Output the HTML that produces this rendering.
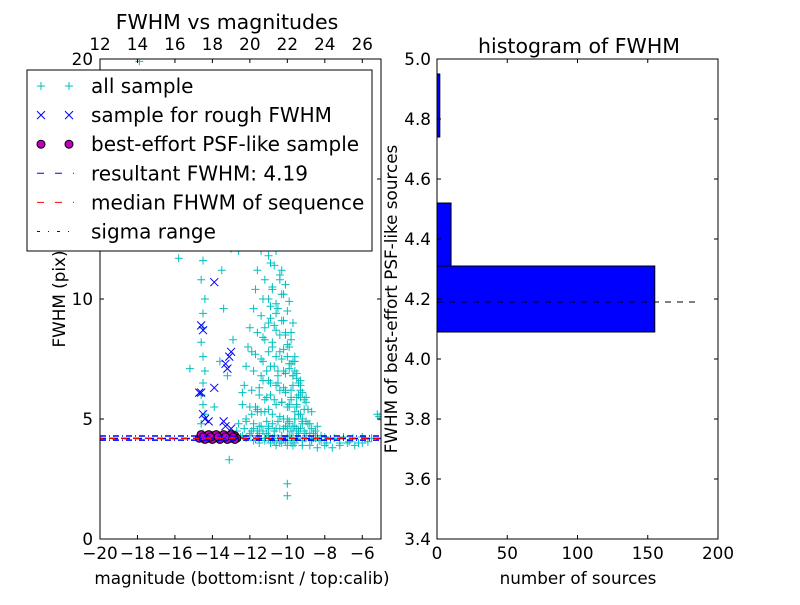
<!DOCTYPE html>
<html><head><meta charset="utf-8"><style>
body{margin:0;background:#fff;}
svg text{font-family:"DejaVu Sans","Liberation Sans",sans-serif;}
</style></head><body>
<svg id="c" width="800" height="600" xmlns="http://www.w3.org/2000/svg">
<rect width="800" height="600" fill="#fff"/>
</svg>
<script>
// Left panel data (bottom magnitude, FWHM)
const allMag=[-14.5,-14.6,-14.4,-14.5,-14.6,-14.5,-14.4,-14.5,-14.6,-14.5,-14.5,-14.4,-14.6,-14.5,-14.5,-14.3,-14.5,-14.6,-14.5,-14.4,-15.8,-15.2,-13.9,-13.6,-13.0,-13.4,-13.8,-12.9,-13.2,-13.5,-17.9,-12.9,
-12.0,-11.8,-11.6,-11.5,-11.3,-11.1,-11.0,-10.8,-10.7,-10.5,-10.4,-10.2,-10.1,-10.0,-9.9,-9.7,-9.6,-9.4,-9.3,-9.1,-9.0,-8.8,-8.6,-8.4,
-11.9,-11.7,-11.4,-11.2,-11.0,-10.9,-10.6,-10.4,-10.3,-10.1,-9.9,-9.8,-9.6,-9.5,-9.3,-9.2,-9.0,-8.9,-8.7,-8.5,
-11.5,-11.3,-11.1,-10.9,-10.7,-10.5,-10.3,-10.1,-9.9,-9.7,-9.5,-9.3,-9.1,-8.9,
-11.4,-11.0,-10.8,-10.6,-10.4,-10.2,-10.0,-9.8,-9.6,-9.4,-9.2,-9.0,
-11.2,-10.9,-10.7,-10.5,-10.3,-10.1,-9.9,-9.7,-9.5,-9.3,
-11.0,-10.8,-10.6,-10.4,-10.2,-10.0,-9.8,-9.6,
-10.9,-10.6,-10.3,-10.1,-9.9,-9.7,-10.5,-10.2,
-11.8,-11.5,-11.2,-10.9,-10.6,-10.3,-10.0,-9.7,-11.0,-10.7,-10.4,-10.1,-9.8,-12.2,-11.6,-12.4,-11.9,-11.3,
-12.5,-12.0,-11.5,-11.0,-10.5,-10.0,-9.5,-9.0,-8.5,-8.0,-7.5,-7.0,-6.5,-6.0,-5.5,-5.2,-12.2,-11.7,-11.2,-10.7,-10.2,-9.7,-9.2,-8.7,-8.2,-7.7,-7.2,-6.7,-6.2,-5.7,
-13.1,-10.0,-10.0,-5.1,-12.1,-11.3,-10.8,-12.6,-13.3,-17.6,-11.6,
-11.2,-11.0,-10.9,-10.7,-11.1,-10.8,-10.6,-11.3,-10.9,-10.5,-11.4,-11.0,-10.7,-10.4,-11.6,-11.2,-10.8,-10.3,-11.7,-11.3,-10.9,-10.6,-10.2,-11.8,-11.4,-11.0,-10.6,-10.1,-9.8,
-12.0,-11.6,-11.2,-10.8,-10.4,-10.0,-9.6,-12.1,-11.7,-11.3,-10.9,-10.5,-10.1,-9.7,-9.3,-12.2,-11.8,-11.4,-11.0,-10.6,-10.2,-9.8,-9.4,-9.0,
-12.3,-11.9,-11.5,-11.1,-10.7,-10.3,-9.9,-9.5,-9.1,-8.7,-12.4,-12.0,-11.6,-11.2,-10.8,-10.4,-10.0,-9.6,-9.2,-8.8,-8.4,
-12.6,-12.2,-11.8,-11.4,-11.0,-10.6,-10.2,-9.8,-9.4,-9.0,-8.6,-8.2,-12.7,-12.3,-11.9,-11.5,-11.1,-10.7,-10.3,-9.9,-9.5,-9.1,-8.7,-8.3,-7.9,
-12.4,-12.0,-11.6,-11.2,-10.8,-10.4,-10.0,-9.6,-9.2,-8.8,-8.4,-8.0,-7.6,-7.2,-6.8,-6.4,-6.0,
-10.5,-10.2,-9.9,-10.1,-9.7,-9.5,-9.3,-10.0,-9.8,-9.4,-9.6,-9.2,-9.9,-9.7,-9.5];
const allFwhm=[4.4,4.8,5.2,5.6,6.0,6.5,7.0,7.6,8.2,8.8,9.4,10.0,10.8,11.6,12.4,13.2,14.0,15.0,16.0,13.5,11.7,7.1,5.5,7.4,12.1,9.6,13.1,8.3,6.8,11.2,19.9,14.3,
4.4,4.6,4.5,4.7,4.5,4.9,4.6,4.8,4.5,4.9,4.6,5.0,4.7,4.6,4.8,4.5,4.7,4.4,4.6,4.5,4.3,4.4,4.2,4.3,
5.2,5.5,5.3,5.8,5.4,6.0,5.6,6.2,5.7,6.1,5.5,5.9,5.3,5.6,5.2,5.0,4.9,4.8,4.6,4.5,
6.3,6.6,7.0,6.5,7.2,6.8,7.5,6.9,7.1,6.4,6.7,5.9,5.8,5.4,
7.5,7.8,8.2,7.6,8.5,7.9,8.1,7.3,7.0,6.5,6.1,5.7,
8.8,9.2,8.9,9.6,9.1,8.6,8.0,7.4,6.9,6.2,
10.0,10.4,9.8,10.8,10.2,9.5,8.6,7.6,
11.5,12.0,11.2,10.6,9.9,9.0,13.1,12.5,
4.1,4.0,4.1,4.0,3.9,4.0,3.9,3.9,4.2,4.1,4.0,4.1,4.0,5.0,5.3,6.1,7.8,8.4,
4.25,4.3,4.2,4.3,4.2,4.25,4.3,4.2,4.2,4.25,4.2,4.25,4.2,4.25,4.2,5.2,4.2,4.15,4.2,4.1,4.15,4.1,4.1,4.15,4.1,4.15,4.0,4.05,4.0,4.05,
3.3,2.3,1.8,5.1,14.5,15.5,14.8,12.0,12.8,12.9,17.0,
16.0,15.6,15.2,14.6,14.0,13.6,13.2,13.0,12.6,12.2,12.0,11.8,11.4,11.0,11.2,10.8,10.5,10.2,10.4,10.0,9.7,9.4,9.1,9.6,9.3,9.0,8.7,8.5,8.3,
8.8,8.6,8.3,8.0,7.8,7.6,7.4,8.0,7.7,7.4,7.2,7.0,6.9,6.8,6.6,7.2,7.0,6.8,6.6,6.4,6.3,6.2,6.0,5.9,
6.4,6.2,6.0,5.9,5.8,5.7,5.6,5.5,5.4,5.3,5.6,5.5,5.4,5.3,5.2,5.1,5.0,5.0,4.9,4.8,4.7,
4.8,4.9,4.8,4.7,4.7,4.6,4.6,4.5,4.5,4.4,4.4,4.3,4.5,4.6,4.5,4.4,4.4,4.3,4.3,4.3,4.2,4.2,4.1,4.1,4.0,
4.3,4.3,4.3,4.2,4.2,4.1,4.1,4.0,3.9,3.9,3.8,3.9,3.8,3.9,4.0,3.9,4.0,
6.5,7.0,7.3,6.2,6.8,5.9,6.4,5.5,5.8,5.2,5.0,4.8,4.9,4.7,4.6];
const roughMag=[-14.6,-14.5,-14.6,-14.5,-13.9,-13.3,-13.2,-13.1,-13.0,-14.7,-13.9,-14.4,-14.2,-13.4,-13.3,-13.0];
const roughFwhm=[8.9,8.7,6.1,5.2,10.7,7.3,7.1,7.6,7.8,6.1,6.3,5.0,4.9,4.9,4.7,4.6];
const psfMag=[-14.7,-14.6,-14.5,-14.4,-14.3,-14.2,-14.1,-14.0,-13.9,-13.8,-13.7,-13.6,-13.5,-13.4,-13.3,-13.2,-13.1,-13.0,-12.9,-12.8,-12.7,-14.6,-14.4,-14.2,-14.0,-13.8,-13.6,-13.4,-13.2,-13.0,-12.8,-14.5,-14.1,-13.7,-13.3,-12.9];
const psfFwhm=[4.2,4.3,4.2,4.25,4.3,4.2,4.25,4.3,4.2,4.25,4.3,4.2,4.25,4.3,4.2,4.25,4.3,4.2,4.25,4.3,4.2,4.35,4.15,4.35,4.15,4.35,4.15,4.35,4.15,4.35,4.15,4.25,4.25,4.25,4.25,4.25];
const resultFwhm=4.19, medianFwhm=4.2, sigmaLo=4.12, sigmaHi=4.29;
const magTicks=[-20,-18,-16,-14,-12,-10,-8,-6];
const calibTicks=[12,14,16,18,20,22,24,26];
const fwhmTicks=[0,5,10,15,20];
// Right panel data (histogram)
const binLo=[4.09,4.31,4.74];
const binHi=[4.31,4.52,4.95];
const binCount=[155,10,2];
const histXTicks=[0,50,100,150,200];
const histYTicks=[3.4,3.6,3.8,4.0,4.2,4.4,4.6,4.8,5.0];

const NS="http://www.w3.org/2000/svg";
const svg=document.getElementById('c');
function mk(tag,attrs,parent){const e=document.createElementNS(NS,tag);for(const k in attrs)e.setAttribute(k,attrs[k]);(parent||svg).appendChild(e);return e;}
function txt(s,x,y,size,anchor,parent){const t=mk('text',{x:x,y:y,'font-size':size,'text-anchor':anchor||'middle',fill:'#000'},parent);t.textContent=s;return t;}
const TK=16.8, TT=20.5, LG=20;

const L={x0:100,x1:381,y0:59,y1:539};
const lx=m=>L.x0+(m+20)/15*(L.x1-L.x0);
const ly=f=>L.y1-f/20*(L.y1-L.y0);
const lxc=c=>L.x0+(c-12)/15*(L.x1-L.x0);
const R={x0:437,x1:718,y0:59,y1:539};
const rx=n=>R.x0+n/200*(R.x1-R.x0);
const ry=f=>R.y1-(f-3.4)/1.6*(R.y1-R.y0);

const gL=mk('g',{});


const clip=mk('clipPath',{id:'cl'});mk('rect',{x:L.x0,y:L.y0,width:L.x1-L.x0,height:L.y1-L.y0},clip);
const plot=mk('g',{'clip-path':'url(#cl)'},gL);
allMag.forEach((m,i)=>{const x=lx(m),y=ly(allFwhm[i]);
 const p=mk('path',{d:`M${x-4},${y}H${x+4}M${x},${y-4}V${y+4}`,stroke:'#00bfbf','stroke-width':1},plot);
 });
roughMag.forEach((m,i)=>{const x=lx(m),y=ly(roughFwhm[i]);
 const p=mk('path',{d:`M${x-4},${y-4}L${x+4},${y+4}M${x-4},${y+4}L${x+4},${y-4}`,stroke:'#00f','stroke-width':1},plot);
 });
psfMag.forEach((m,i)=>{const c=mk('circle',{cx:lx(m),cy:ly(psfFwhm[i]),r:4,fill:'#bf00bf',stroke:'#000','stroke-width':1},plot);
 });
const l1=mk('line',{x1:L.x0,x2:L.x1,y1:ly(sigmaLo),y2:ly(sigmaLo),stroke:'#00f','stroke-width':1.5,'stroke-dasharray':'6,3,1,3'},plot);

const l2=mk('line',{x1:L.x0,x2:L.x1,y1:ly(sigmaHi),y2:ly(sigmaHi),stroke:'#00f','stroke-width':1.5,'stroke-dasharray':'6,3,1,3'},plot);

const l3=mk('line',{x1:L.x0,x2:L.x1,y1:ly(resultFwhm),y2:ly(resultFwhm),stroke:'#00f','stroke-width':1.5,'stroke-dasharray':'6,6'},plot);

const l4=mk('line',{x1:L.x0,x2:L.x1,y1:ly(medianFwhm),y2:ly(medianFwhm),stroke:'#f00','stroke-width':1.5,'stroke-dasharray':'6,6','stroke-dashoffset':3},plot);

mk('rect',{x:L.x0,y:L.y0,width:L.x1-L.x0,height:L.y1-L.y0,fill:'none',stroke:'#000'},gL);
magTicks.forEach(t=>{const x=lx(t);mk('line',{x1:x,x2:x,y1:L.y1,y2:L.y1-4,stroke:'#000'},gL);mk('line',{x1:x,x2:x,y1:L.y0,y2:L.y0+4,stroke:'#000'},gL);
 txt('\u2212'+Math.abs(t),x,559,TK,'middle',gL);});
calibTicks.forEach(t=>{const x=lxc(t);txt(String(t),x,50,TK,'middle',gL);});
fwhmTicks.forEach(t=>{const y=ly(t);mk('line',{x1:L.x0,x2:L.x0+4,y1:y,y2:y,stroke:'#000'},gL);mk('line',{x1:L.x1,x2:L.x1-4,y1:y,y2:y,stroke:'#000'},gL);
 txt(String(t),93,y+6,TK,'end',gL);});
const lt=txt('FWHM vs magnitudes',227,29,TT,'middle',gL);
const lxl=txt('magnitude (bottom:isnt / top:calib)',242,584,TK,'middle',gL);
const lyl=txt('FWHM (pix)',0,0,TK,'middle',gL);lyl.setAttribute('transform','translate(65,299) rotate(-90)');

// legend
const lg=mk('g',{});
mk('rect',{x:27,y:70,width:345,height:181,fill:'#fff',stroke:'#000'},lg);
const labels=['all sample','sample for rough FWHM','best-effort PSF-like sample','resultant FWHM: 4.19','median FHWM of sequence','sigma range'];
labels.forEach((s,i)=>{const y=86+i*29.1;const a=41,b=69;
 if(i==0)[a,b].forEach(x=>mk('path',{d:`M${x-4},${y}H${x+4}M${x},${y-4}V${y+4}`,stroke:'#00bfbf'},lg));
 if(i==1)[a,b].forEach(x=>mk('path',{d:`M${x-4},${y-4}L${x+4},${y+4}M${x-4},${y+4}L${x+4},${y-4}`,stroke:'#00f'},lg));
 if(i==2)[a,b].forEach(x=>mk('circle',{cx:x,cy:y,r:4,fill:'#bf00bf',stroke:'#000'},lg));
 if(i==3)mk('line',{x1:37,x2:74,y1:y,y2:y,stroke:'#00f','stroke-dasharray':'7,11'},lg);
 if(i==4)mk('line',{x1:37,x2:74,y1:y,y2:y,stroke:'#f00','stroke-dasharray':'7,11'},lg);
 if(i==5)mk('line',{x1:37,x2:74,y1:y,y2:y,stroke:'#00f','stroke-dasharray':'3,8,1,8'},lg);
 const t=txt(s,91,y+7,LG,'start',lg);});

// right histogram
const gR=mk('g',{});
binCount.forEach((n,i)=>{const y0=ry(binHi[i]),y1=ry(binLo[i]);
 const r=mk('rect',{x:rx(0),y:y0,width:rx(n)-rx(0),height:y1-y0,fill:'#00f',stroke:'#000'},gR);
 });
const hl=mk('line',{x1:rx(0),x2:rx(185),y1:ry(resultFwhm),y2:ry(resultFwhm),stroke:'#000','stroke-dasharray':'6,6'},gR);

mk('rect',{x:R.x0,y:R.y0,width:R.x1-R.x0,height:R.y1-R.y0,fill:'none',stroke:'#000'},gR);
histXTicks.forEach(t=>{const x=rx(t);mk('line',{x1:x,x2:x,y1:R.y1,y2:R.y1-4,stroke:'#000'},gR);mk('line',{x1:x,x2:x,y1:R.y0,y2:R.y0+4,stroke:'#000'},gR);
 txt(String(t),x,559,TK,'middle',gR);});
histYTicks.forEach(t=>{const y=ry(t);mk('line',{x1:R.x0,x2:R.x0+4,y1:y,y2:y,stroke:'#000'},gR);mk('line',{x1:R.x1,x2:R.x1-4,y1:y,y2:y,stroke:'#000'},gR);
 txt(t.toFixed(1),431,y+6,TK,'end',gR);});
const rt=txt('histogram of FWHM',579,53,TT,'middle',gR);
const rxl=txt('number of sources',578,584,TK,'middle',gR);
const ryl=txt('FWHM of best-effort PSF-like sources',0,0,TK,'middle',gR);ryl.setAttribute('transform','translate(397,299) rotate(-90)');
</script>
</body></html>
